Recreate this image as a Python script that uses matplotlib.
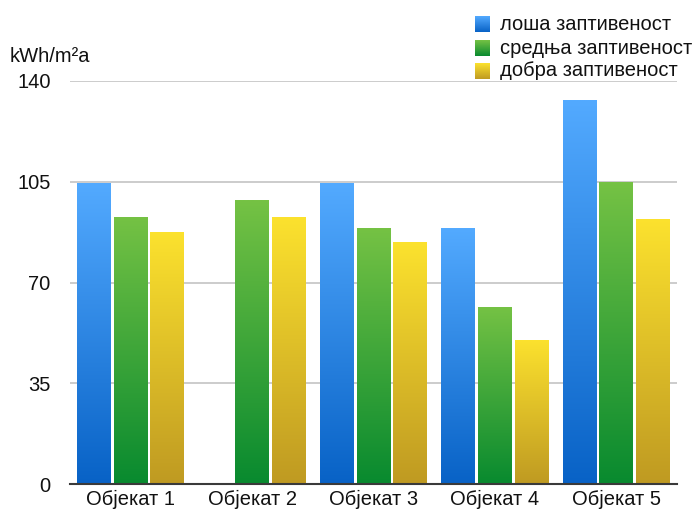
import numpy as np
import matplotlib
matplotlib.use("Agg")
import matplotlib.pyplot as plt
from matplotlib.colors import LinearSegmentedColormap

plt.rcParams['font.family'] = ['Liberation Sans', 'DejaVu Sans']

categories = ["Објекат 1", "Објекат 2", "Објекат 3", "Објекат 4", "Објекат 5"]
series_names = ["лоша заптивеност", "средња заптивеност", "добра заптивеност"]
losa = [104.4, 0.0, 104.4, 88.8, 133.3]
srednja = [92.9, 98.5, 88.8, 61.6, 104.9]
dobra = [87.7, 92.9, 83.9, 50.1, 92.2]
y_ticks = [0, 35, 70, 105, 140]

series = [losa, srednja, dobra]
# (top colour, bottom colour) for each series gradient
gradients = [("#53AAFF", "#0862C6"),
             ("#75C244", "#088A2F"),
             ("#FCE22E", "#BF9A22")]

FS = 14.5

fig = plt.figure(figsize=(6.94, 5.13), dpi=100)
ax = fig.add_axes([70 / 694, 1 - 484 / 513, 607 / 694, 403 / 513])

x = np.arange(len(categories))
bar_w = 0.278
step = 0.302
grad = np.linspace(0, 1, 256).reshape(-1, 1)

for i, (vals, (top, bottom)) in enumerate(zip(series, gradients)):
    cmap = LinearSegmentedColormap.from_list(f"g{i}", [bottom, top])
    bars = ax.bar(x + (i - 1) * step, vals, width=bar_w, color="none",
                  edgecolor="none", zorder=3)
    for b in bars:
        h = b.get_height()
        if h <= 0:
            continue
        x0 = b.get_x()
        im = ax.imshow(grad, cmap=cmap, origin="lower", aspect="auto",
                       extent=(x0, x0 + b.get_width(), 0, h), zorder=3,
                       interpolation="bilinear")
        im.set_clip_path(b)

ax.set_xlim(-0.5, len(categories) - 0.5)
ax.set_ylim(0, 140)
ax.set_yticks(y_ticks)
ax.set_yticklabels([str(t) for t in y_ticks], fontsize=FS)
ax.set_xticks(x)
ax.set_xticklabels(categories, fontsize=FS)
ax.tick_params(axis="both", length=0, colors="#111111")
ax.tick_params(axis="y", pad=14)
ax.tick_params(axis="x", pad=4)

for s in ["top", "right", "left"]:
    ax.spines[s].set_visible(False)
ax.spines["bottom"].set_color("#3a3a3a")
ax.spines["bottom"].set_linewidth(1.5)
ax.spines["bottom"].set_zorder(4)
ax.yaxis.grid(True, color="#c8c8c8", linewidth=1.3, zorder=0)
ax.set_axisbelow(True)

fig.text(10 / 694, 1 - 57 / 513, "kWh/m²a", fontsize=FS, va="center",
         ha="left", color="#111111")

# legend with gradient squares
leg_y = [24, 48, 71]
for name, (top, bottom), yy in zip(series_names, gradients, leg_y):
    lax = fig.add_axes([475 / 694, 1 - (yy + 8) / 513, 15 / 694, 16 / 513])
    cm = LinearSegmentedColormap.from_list("l", [bottom, top])
    lax.imshow(grad, cmap=cm, origin="lower", aspect="auto")
    lax.set_axis_off()
    fig.text(500 / 694, 1 - yy / 513, name, fontsize=FS, va="center",
             ha="left", color="#111111")

fig.savefig("out.png", dpi=100)
